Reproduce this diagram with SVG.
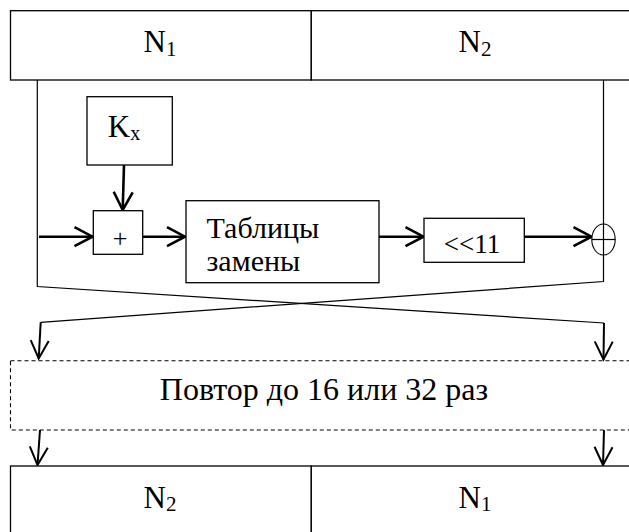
<svg xmlns="http://www.w3.org/2000/svg" width="629" height="532" viewBox="0 0 629 532">
<style>
.box{fill:#fff;stroke:#000;stroke-width:1.3}
.dash{fill:none;stroke:#000;stroke-width:1.1;stroke-dasharray:4 3}
.t{font-family:"Liberation Serif","Times New Roman",serif;fill:#000}
.thin{fill:none;stroke:#000;stroke-width:1.2}
.arr{fill:none;stroke:#000;stroke-width:2.6;marker-end:url(#ah)}
.arr2{fill:none;stroke:#000;stroke-width:2;marker-end:url(#ah2)}
</style>
<defs>
<marker id="ah" markerUnits="userSpaceOnUse" markerWidth="24" markerHeight="24" viewBox="0 0 24 24" refX="21" refY="12" orient="auto">
<path d="M3,2.5 L21,12 L3,21.5" fill="none" stroke="#000" stroke-width="2.6"/>
</marker>
<marker id="ah2" markerUnits="userSpaceOnUse" markerWidth="24" markerHeight="24" viewBox="0 0 24 24" refX="21" refY="12" orient="auto">
<path d="M3,3 L21,12 L3,21" fill="none" stroke="#000" stroke-width="2"/>
</marker>
</defs>
<rect width="629" height="532" fill="#fff"/>

<g id="connectors">
<polyline class="thin" points="37.3,80 37.3,286.5 604,323"/>
<polyline class="thin" points="603.5,80 603.5,281.5 40.7,322.3"/>
<line class="arr2" x1="40.7" y1="322.3" x2="38.7" y2="358.5"/>
<line class="arr2" x1="604" y1="323" x2="603.5" y2="359.5"/>
<line class="arr2" x1="40" y1="430" x2="37.5" y2="465"/>
<line class="arr2" x1="604" y1="430" x2="603" y2="465"/>
<line class="arr" x1="124" y1="165" x2="122.7" y2="210"/>
<line class="arr" x1="39" y1="236.7" x2="92.5" y2="236.7"/>
<line class="arr" x1="142.7" y1="236.7" x2="185" y2="236.7"/>
<line class="arr" x1="379" y1="236.7" x2="423.5" y2="236.7"/>
<line class="arr" x1="524.3" y1="236.7" x2="591.5" y2="236.7"/>
</g>

<g id="top-register">
<rect class="box" x="10.5" y="10.7" width="300.8" height="69.3"/>
<rect class="box" x="311.3" y="10.7" width="330" height="69.3"/>
<text class="t" x="160" y="52" font-size="31" text-anchor="middle">N<tspan font-size="21" dy="3.5">1</tspan></text>
<text class="t" x="475" y="52" font-size="31" text-anchor="middle">N<tspan font-size="21" dy="3.5">2</tspan></text>
</g>

<g id="kx">
<rect class="box" x="87" y="96.7" width="85.3" height="68.3"/>
<text class="t" x="124" y="136.7" font-size="31" text-anchor="middle">K<tspan font-size="20" dy="3.5">x</tspan></text>
</g>

<g id="adder">
<rect class="box" x="93.3" y="210.7" width="49.4" height="43.6"/>
<text class="t" x="120" y="247" font-size="26" text-anchor="middle">+</text>
</g>

<g id="sbox">
<rect class="box" x="186" y="200.7" width="193" height="82"/>
<text class="t" x="206.5" y="238.3" font-size="30">Таблицы</text>
<text class="t" x="206.5" y="270.7" font-size="30">замены</text>
</g>

<g id="shift">
<rect class="box" x="424" y="218.3" width="100.3" height="44"/>
<text class="t" x="472" y="253.3" font-size="27" text-anchor="middle">&lt;&lt;11</text>
</g>

<g id="xor">
<ellipse cx="603.5" cy="239.5" rx="11.7" ry="15.5" fill="#fff" stroke="#000" stroke-width="1.1"/>
<line class="thin" x1="591.8" y1="239.5" x2="615.2" y2="239.5" stroke-width="1"/>
<line class="thin" x1="603.5" y1="224" x2="603.5" y2="255" stroke-width="1"/>
</g>

<g id="repeat">
<rect class="dash" x="10.5" y="360.7" width="640" height="69.3"/>
<text class="t" x="324" y="400" font-size="32" text-anchor="middle">Повтор до 16 или 32 раз</text>
</g>

<g id="bottom-register">
<rect class="box" x="10.5" y="466" width="300.8" height="80"/>
<rect class="box" x="311.3" y="466" width="330" height="80"/>
<text class="t" x="160" y="507.7" font-size="31" text-anchor="middle">N<tspan font-size="21" dy="3.5">2</tspan></text>
<text class="t" x="475" y="507.7" font-size="31" text-anchor="middle">N<tspan font-size="21" dy="3.5">1</tspan></text>
</g>
</svg>
